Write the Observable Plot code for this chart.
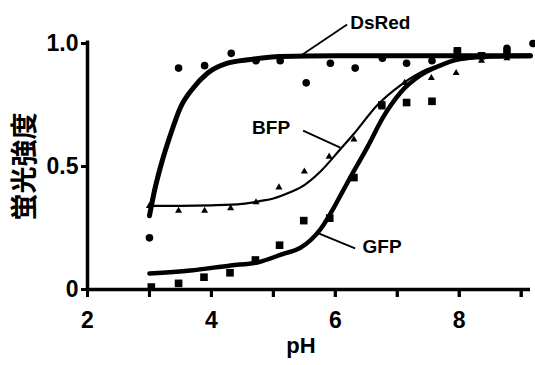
<!DOCTYPE html>
<html><head><meta charset="utf-8">
<script src="https://cdn.jsdelivr.net/npm/d3@7"></script>
<script src="https://cdn.jsdelivr.net/npm/@observablehq/plot@0.6"></script>
<style>body{margin:0;background:#fff}</style>
</head><body><div id="chart"></div>
<script>
// Measured points
const dsredPtX = [3.0, 3.47, 3.89, 4.32, 4.72, 5.11, 5.53, 5.92, 6.32, 6.76, 7.15, 7.56, 7.97, 8.36, 8.77, 9.19];
const dsredPtY = [0.21, 0.90, 0.91, 0.96, 0.93, 0.93, 0.84, 0.92, 0.90, 0.94, 0.92, 0.93, 0.97, 0.95, 0.98, 1.00];
const gfpPtX = [3.03, 3.47, 3.88, 4.30, 4.71, 5.10, 5.49, 5.91, 6.30, 6.75, 7.15, 7.56, 7.97, 8.36, 8.77];
const gfpPtY = [0.01, 0.025, 0.05, 0.068, 0.12, 0.18, 0.28, 0.29, 0.455, 0.75, 0.76, 0.765, 0.97, 0.95, 0.96];
const bfpPtX = [3.0, 3.47, 3.89, 4.31, 4.72, 5.09, 5.5, 5.9, 6.3, 6.75, 7.12, 7.55, 7.95, 8.36, 8.77];
const bfpPtY = [0.34, 0.32, 0.32, 0.33, 0.355, 0.415, 0.48, 0.54, 0.61, 0.74, 0.84, 0.86, 0.88, 0.93, 0.94];

// Fitted curves
const dsredCurveX = [3.0, 3.08, 3.18, 3.34, 3.5, 3.71, 3.94, 4.26, 4.63, 5.11, 6.0, 7.0, 8.0, 9.15];
const dsredCurveY = [0.30, 0.40, 0.50, 0.63, 0.74, 0.82, 0.88, 0.92, 0.935, 0.947, 0.95, 0.95, 0.95, 0.95];
const bfpCurveX = [3.0, 3.5, 4.0, 4.5, 4.8, 5.0, 5.27, 5.44, 5.76, 6.08, 6.29, 6.68, 7.05, 7.48, 7.85, 8.29, 8.8, 9.15];
const bfpCurveY = [0.34, 0.34, 0.342, 0.348, 0.36, 0.37, 0.395, 0.415, 0.48, 0.57, 0.63, 0.75, 0.83, 0.895, 0.925, 0.94, 0.945, 0.945];
const gfpCurveX = [3.0, 3.66, 4.31, 4.74, 5.16, 5.44, 5.76, 5.97, 6.11, 6.24, 6.52, 6.77, 7.05, 7.37, 7.69, 7.97, 8.5, 9.15];
const gfpCurveY = [0.065, 0.077, 0.098, 0.11, 0.145, 0.17, 0.245, 0.33, 0.395, 0.455, 0.58, 0.70, 0.80, 0.87, 0.91, 0.935, 0.948, 0.95];

// Series labels and leader lines (data coords)
const labelNames = ["DsRed", "BFP", "GFP"];
const labelX = [6.24, 5.27, 6.44];
const labelY = [1.085, 0.655, 0.175];
const labelAnchor = ["start", "end", "start"];
const leaderX1 = [5.44, 5.48, 5.73];
const leaderY1 = [0.95, 0.646, 0.228];
const leaderX2 = [6.19, 6.08, 6.32];
const leaderY2 = [1.077, 0.577, 0.167];

// Ticks
const xTicks = [2, 3, 4, 5, 6, 7, 8, 9];
const xTickLabels = ["2", "", "4", "", "6", "", "8", ""];
const yTicks = [0, 0.5, 1.0];
const yTickLabels = ["0", "0.5", "1.0"];
const xTitle = "pH";
const yTitle = "蛍光強度";

const zip = (xs, ys) => xs.map((x, i) => ({x, y: ys[i]}));
const xLab = new Map(xTicks.map((t, i) => [t, xTickLabels[i]]));
const yLab = new Map(yTicks.map((t, i) => [t, yTickLabels[i]]));
const labels = labelNames.map((n, i) => ({n, x: labelX[i], y: labelY[i], a: labelAnchor[i],
  x1: leaderX1[i], y1: leaderY1[i], x2: leaderX2[i], y2: leaderY2[i]}));

const font = "'Liberation Sans', Arial, Helvetica, sans-serif";
const chart = Plot.plot({
  width: 535, height: 365,
  marginLeft: 87, marginRight: 5, marginTop: 43, marginBottom: 76,
  x: {domain: [2, 9.15]},
  y: {domain: [0, 1]},
  style: {fontFamily: font, background: "#fff", color: "#000", overflow: "visible"},
  marks: [
    Plot.axisX({ticks: xTicks, tickFormat: d => xLab.get(d), tickSize: 8, tickPadding: 14, fontSize: 23, fontWeight: "bold", strokeWidth: 3, label: null}),
    Plot.axisY({ticks: yTicks, tickFormat: d => yLab.get(d), tickSize: 6, tickPadding: 3, fontSize: 23, fontWeight: "bold", strokeWidth: 3, label: null}),
    Plot.ruleX(xTicks, {y1: 0, y2: 0, insetBottom: -8, strokeWidth: 3}),
    Plot.ruleY(yTicks, {x1: 2, x2: 2, insetLeft: -6, strokeWidth: 3}),
    Plot.ruleY([0], {x1: 2, x2: 9.15, strokeWidth: 3.5}),
    Plot.ruleX([2], {y1: 0, y2: 1.01, strokeWidth: 3.5}),
    Plot.line(zip(bfpCurveX, bfpCurveY), {x: "x", y: "y", curve: "monotone-x", strokeWidth: 2.2, clip: false}),
    Plot.line(zip(gfpCurveX, gfpCurveY), {x: "x", y: "y", curve: "monotone-x", strokeWidth: 4.5, clip: false}),
    Plot.line(zip(dsredCurveX, dsredCurveY), {x: "x", y: "y", curve: "monotone-x", strokeWidth: 5, clip: false}),
    Plot.dot(zip(dsredPtX, dsredPtY), {x: "x", y: "y", r: 3.8, fill: "#000", symbol: "circle"}),
    Plot.dot(zip(gfpPtX, gfpPtY), {x: "x", y: "y", r: 4.3, fill: "#000", symbol: "square"}),
    Plot.dot(zip(bfpPtX, bfpPtY), {x: "x", y: "y", r: 2.6, fill: "#000", symbol: "triangle"}),
    Plot.link(labels, {x1: "x1", y1: "y1", x2: "x2", y2: "y2", strokeWidth: 1.8, stroke: "#000"}),
    Plot.text(labels, {x: "x", y: "y", text: "n", textAnchor: "start", fontSize: 19, fontWeight: "bold", fill: "#000", filter: d => d.a === "start"}),
    Plot.text(labels, {x: "x", y: "y", text: "n", textAnchor: "end", fontSize: 19, fontWeight: "bold", fill: "#000", filter: d => d.a === "end"}),
    Plot.text([xTitle], {frameAnchor: "bottom", textAnchor: "middle", text: d => d, dx: -8, dy: 63, fontSize: 22, fontWeight: "bold", fill: "#000"}),
    Plot.text([yTitle], {frameAnchor: "left", textAnchor: "middle", text: d => d, dx: -62, rotate: -90, fontSize: 27, fontWeight: "bold", fill: "#000", fontFamily: "'Noto Sans CJK JP', sans-serif"})
  ]
});
document.getElementById("chart").appendChild(chart);
</script>
</body></html>
